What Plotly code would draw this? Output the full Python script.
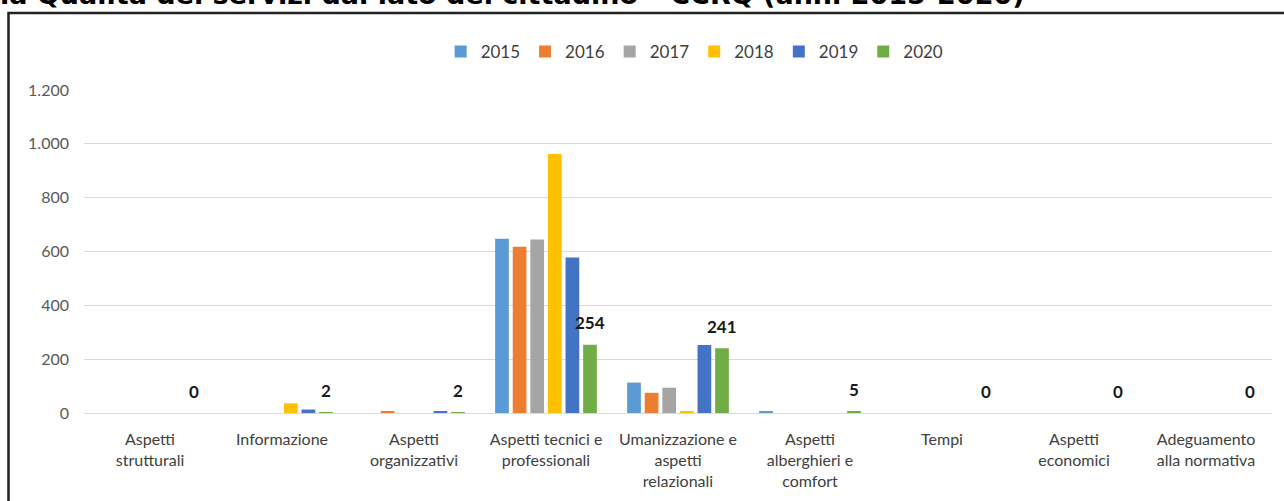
import plotly.graph_objects as go

categories = [
    "Aspetti<br>strutturali",
    "Informazione",
    "Aspetti<br>organizzativi",
    "Aspetti tecnici e<br>professionali",
    "Umanizzazione e<br>aspetti<br>relazionali",
    "Aspetti<br>alberghieri e<br>comfort",
    "Tempi",
    "Aspetti<br>economici",
    "Adeguamento<br>alla normativa",
]
years = ["2015", "2016", "2017", "2018", "2019", "2020"]
v2015 = [0, 0, 0, 647, 113, 4, 0, 0, 0]
v2016 = [0, 0, 4, 618, 75, 0, 0, 0, 0]
v2017 = [0, 0, 0, 645, 94, 0, 0, 0, 0]
v2018 = [0, 36, 0, 962, 5, 0, 0, 0, 0]
v2019 = [0, 13, 4, 578, 253, 0, 0, 0, 0]
v2020 = [0, 2, 2, 254, 241, 5, 0, 0, 0]
colors = ["#5B9BD5", "#ED7D31", "#A5A5A5", "#FFC000", "#4472C4", "#70AD47"]
title_text = "la Qualità dei servizi dal lato del cittadino – CCRQ (anni 2015-2020)"

series = [v2015, v2016, v2017, v2018, v2019, v2020]

fig = go.Figure()
for name, vals, col in zip(years, series, colors):
    fig.add_trace(go.Bar(x=categories, y=vals, name=name, marker_color=col,
                         marker_line_width=0))

# data labels for 2020 series
bar_pitch = 132 * 0.8 / 6
for cat, val in zip(categories, v2020):
    fig.add_annotation(x=cat, y=val, text=f"<b>{val}</b>", showarrow=False,
                       xshift=2.5 * bar_pitch, yshift=22, yanchor="middle",
                       font=dict(family="Lato, sans-serif", size=17, color="#1a1a1a"))

# title (cropped at top)
fig.add_annotation(xref="paper", yref="paper", x=(-2 - 84) / 1188, xanchor="left",
                   y=1 + (90 - 12) / 323, yanchor="bottom", text="<b>" + title_text + "</b>",
                   showarrow=False,
                   font=dict(family="DejaVu Sans, sans-serif", size=27, color="#000000"))

# outer frame
fig.add_shape(type="rect", xref="paper", yref="paper",
              x0=(8.5 - 84) / 1188, x1=(1295 - 84) / 1188,
              y0=1 - (520 - 90) / 323, y1=1 + (90 - 13) / 323,
              line=dict(color="#222222", width=2.5), fillcolor="rgba(0,0,0,0)", layer="above")

fig.update_layout(
    width=1284, height=501,
    margin=dict(l=84, r=12, t=90, b=88, autoexpand=False),
    paper_bgcolor="white", plot_bgcolor="white",
    barmode="group", bargap=0.2, bargroupgap=0.22,
    separators=",.",
    showlegend=True,
    legend=dict(orientation="h", x=0.514, xanchor="center", y=1 + (90 - 52) / 323, yanchor="middle",
                font=dict(family="Lato, sans-serif", size=17, color="#404040"),
                itemwidth=30, traceorder="normal"),
)
fig.update_yaxes(range=[0, 1200], dtick=200, tickformat=",d",
                 showgrid=True, gridcolor="#D9D9D9", gridwidth=1,
                 zeroline=False, showline=False, ticks="", ticklabelstandoff=14,
                 tickfont=dict(family="Lato, sans-serif", size=16, color="#595959"))
fig.update_xaxes(showline=True, linecolor="#D9D9D9", linewidth=1, ticks="",
                 ticklabelstandoff=12, tickangle=0,
                 tickfont=dict(family="Lato, sans-serif", size=16, color="#404040"))

fig.write_html("out.html", config={"displayModeBar": False},
               post_script="document.body.style.margin='0';document.body.style.overflow='hidden';")
